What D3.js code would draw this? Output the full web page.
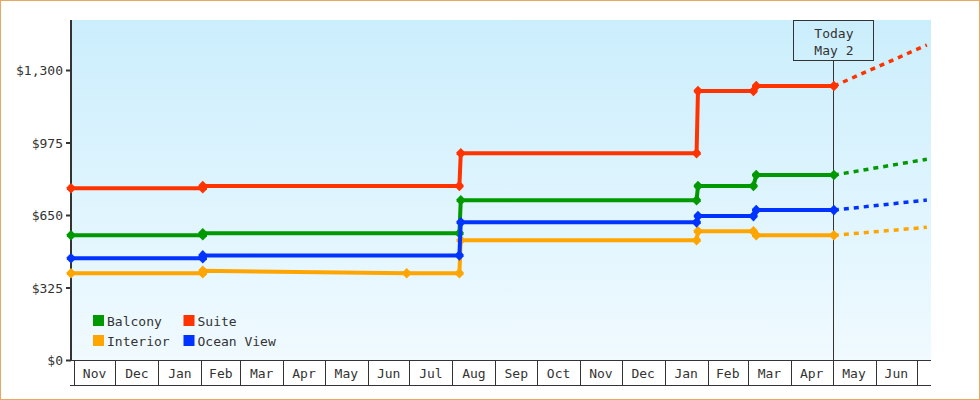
<!DOCTYPE html>
<html>
<head>
<meta charset="utf-8">
<script src="https://cdn.jsdelivr.net/npm/d3@7"></script>
<style>
  html, body { margin: 0; padding: 0; background: #fff; }
  svg { display: block; }
  text { font-family: "DejaVu Sans Mono", monospace; font-size: 13px; fill: #333; }
</style>
</head>
<body>
<svg id="chart" width="980" height="400"></svg>
<script>
// ---------- DATA ----------
const seriesNames = ["Balcony", "Suite", "Interior", "Ocean View"];
const seriesColors = ["#009900", "#ff3300", "#ffa500", "#0033ff"];

const balconyDates  = ["2022-10-30","2023-02-02","2023-02-02","2023-08-06","2023-08-07","2024-01-24","2024-01-25","2024-03-05","2024-03-07","2024-05-02"];
const balconyPrices = [559, 559, 568, 568, 716, 716, 780, 780, 829, 829];

const suiteDates  = ["2022-10-30","2023-02-02","2023-02-02","2023-08-06","2023-08-07","2024-01-24","2024-01-25","2024-03-05","2024-03-07","2024-05-02"];
const suitePrices = [770, 770, 780, 780, 927, 927, 1206, 1206, 1228, 1228];

const interiorDates  = ["2022-10-30","2023-02-02","2023-02-02","2023-06-29","2023-08-06","2023-08-07","2024-01-24","2024-01-25","2024-03-05","2024-03-07","2024-05-02"];
const interiorPrices = [389, 389, 400, 389, 389, 537, 537, 577, 577, 559, 559];

const oceanDates  = ["2022-10-30","2023-02-02","2023-02-02","2023-08-06","2023-08-07","2024-01-24","2024-01-25","2024-03-05","2024-03-07","2024-05-02"];
const oceanPrices = [456, 456, 469, 469, 617, 617, 645, 645, 672, 672];

// projected (dashed) from today to the end
const projectionDates = ["2024-05-02", "2024-07-08"];
const balconyProjection  = [829, 900];
const suiteProjection    = [1228, 1412];
const interiorProjection = [559, 595];
const oceanProjection    = [672, 717];

const yTicks = [0, 325, 650, 975, 1300];
const todayDate = "2024-05-02";
const todayLabel = ["Today", "May 2"];
const xStart = "2022-10-30", xEnd = "2024-07-11";

// ---------- CHART ----------
const parse = d3.timeParse("%Y-%m-%d");
const svg = d3.select("#chart");

const plot = { left: 72, right: 931, top: 20, bottom: 360 };

const x = d3.scaleTime().domain([parse(xStart), parse(xEnd)]).range([71, 931]);
const y = d3.scaleLinear().domain([0, 1300]).range([360, 70]);

// gradient background
const defs = svg.append("defs");
const grad = defs.append("linearGradient").attr("id", "bg").attr("x1", 0).attr("y1", 0).attr("x2", 0).attr("y2", 1);
grad.append("stop").attr("offset", "0%").attr("stop-color", "#cbeefc");
grad.append("stop").attr("offset", "100%").attr("stop-color", "#f0faff");

svg.append("rect")
  .attr("x", 0.5).attr("y", 0.5).attr("width", 979).attr("height", 399)
  .attr("fill", "#fff").attr("stroke", "#e9a862").attr("stroke-width", 1);

svg.append("rect")
  .attr("x", plot.left).attr("y", plot.top)
  .attr("width", plot.right - plot.left).attr("height", plot.bottom - plot.top)
  .attr("fill", "url(#bg)");

// month cells
const monthStarts = d3.timeMonth.range(d3.timeMonth.ceil(parse(xStart)), parse(xEnd));
const cells = svg.append("g");
cells.append("line").attr("x1", 70).attr("x2", 931).attr("y1", 360.5).attr("y2", 360.5).attr("stroke", "#333");
cells.append("line").attr("x1", 70).attr("x2", 931).attr("y1", 385.5).attr("y2", 385.5).attr("stroke", "#333");
cells.selectAll("line.div").data(monthStarts).join("line")
  .attr("class", "div")
  .attr("x1", d => Math.round(x(d)) + 0.5).attr("x2", d => Math.round(x(d)) + 0.5)
  .attr("y1", 360).attr("y2", 386).attr("stroke", "#333");
const fmtMonth = d3.timeFormat("%b");
cells.selectAll("text").data(monthStarts.slice(0, -1)).join("text")
  .attr("x", d => (x(d) + x(d3.timeMonth.offset(d, 1))) / 2)
  .attr("y", 377.5)
  .attr("text-anchor", "middle")
  .text(d => fmtMonth(d));

// y axis
const yAxis = d3.axisLeft(y).tickValues(yTicks).tickSize(5).tickFormat(d => "$" + d3.format(",")(d));
const gy = svg.append("g").attr("transform", "translate(71,0)").call(yAxis);
gy.select(".domain").remove();
gy.selectAll(".tick line").attr("stroke", "#333").attr("stroke-width", 2);
gy.selectAll(".tick text").attr("x", -8).attr("dy", "0.35em")
  .style("font-family", '"DejaVu Sans Mono", monospace').style("font-size", "13px").attr("fill", "#333");
svg.append("line").attr("x1", 71).attr("x2", 71).attr("y1", 20).attr("y2", 361)
  .attr("stroke", "#333").attr("stroke-width", 2);

// today line & box
const tx = x(parse(todayDate));
svg.append("line").attr("x1", Math.round(tx) - 0.5).attr("x2", Math.round(tx) - 0.5)
  .attr("y1", 60.5).attr("y2", 360).attr("stroke", "#333").attr("stroke-width", 1);
svg.append("rect").attr("x", Math.round(tx) - 40.5).attr("y", 20.5).attr("width", 80).attr("height", 40)
  .attr("fill", "none").attr("stroke", "#333");
svg.append("text").attr("x", tx).attr("y", 37.5).attr("text-anchor", "middle").text(todayLabel[0]);
svg.append("text").attr("x", tx).attr("y", 55).attr("text-anchor", "middle").text(todayLabel[1]);

// series
const series = [
  { name: seriesNames[0], color: seriesColors[0], dates: balconyDates,  vals: balconyPrices,  proj: balconyProjection },
  { name: seriesNames[1], color: seriesColors[1], dates: suiteDates,    vals: suitePrices,    proj: suiteProjection },
  { name: seriesNames[2], color: seriesColors[2], dates: interiorDates, vals: interiorPrices, proj: interiorProjection },
  { name: seriesNames[3], color: seriesColors[3], dates: oceanDates,    vals: oceanPrices,    proj: oceanProjection }
];

const line = d3.line().x(d => x(d[0])).y(d => y(d[1]));
const diamond = "M0,-5.3L4.2,-1L4.2,1L0,5.3L-4.2,1L-4.2,-1Z";

series.forEach(s => {
  const pts = s.dates.map((d, i) => [parse(d), s.vals[i]]);
  const proj = projectionDates.map((d, i) => [parse(d), s.proj[i]]);
  svg.append("path").datum(proj).attr("d", line)
    .attr("fill", "none").attr("stroke", s.color).attr("stroke-width", 3.5)
    .attr("stroke-dasharray", "5,5");
  svg.append("path").datum(pts).attr("d", line)
    .attr("fill", "none").attr("stroke", s.color).attr("stroke-width", 4)
    .attr("stroke-linejoin", "miter");
  svg.append("g").selectAll("path").data(pts).join("path")
    .attr("d", diamond)
    .attr("transform", d => `translate(${x(d[0])},${y(d[1])})`)
    .attr("fill", s.color);
});

// legend
const legendPos = [[93, 315], [183.5, 315], [93, 335], [183.5, 335]];
const legendOrder = [0, 1, 2, 3];
const lg = svg.append("g");
legendOrder.forEach((si, i) => {
  const [lx, ly] = legendPos[i];
  lg.append("rect").attr("x", lx).attr("y", ly).attr("width", 11).attr("height", 11).attr("fill", series[si].color);
  lg.append("text").attr("x", lx + 14).attr("y", ly + 10.5).text(series[si].name);
});
</script>
</body>
</html>
